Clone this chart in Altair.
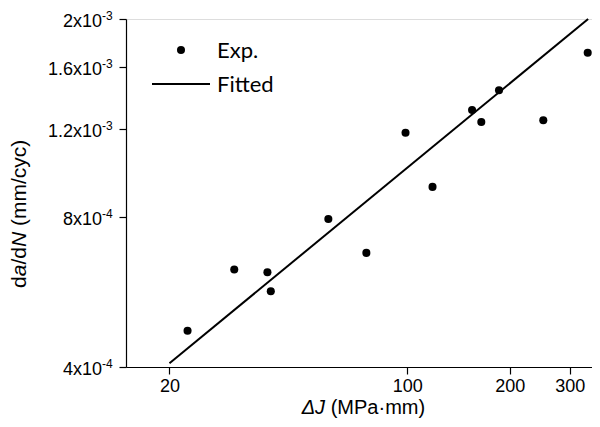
import altair as alt
import pandas as pd

dj = [22.6, 31.0, 38.8, 39.7, 58.6, 75.8, 98.8, 118.6, 155, 165, 186, 251, 339]
dadn = [4.73e-4, 6.28e-4, 6.20e-4, 5.68e-4, 7.93e-4, 6.78e-4, 1.182e-3, 9.20e-4,
        1.313e-3, 1.242e-3, 1.438e-3, 1.252e-3, 1.711e-3]

# Fitted line end points
fit_x = [20, 340]
fit_y = [4.07e-4, 2.0e-3]

# Axis ticks
x_ticks = [20, 100, 200, 300]
y_ticks = [4e-4, 8e-4, 1.2e-3, 1.6e-3, 2e-3]
y_main = ["4x10", "8x10", "1.2x10", "1.6x10", "2x10"]
y_sup = ["-4", "-4", "-3", "-3", "-3"]

exp_df = pd.DataFrame({"x": dj, "y": dadn})
fit_df = pd.DataFrame({"x": fit_x, "y": fit_y})
yt_df = pd.DataFrame({"y": y_ticks, "main": y_main, "sup": y_sup})
one = pd.DataFrame({"a": [0]})

W, H = 466, 348
xs = alt.Scale(type="log", domain=[14.9, 349], nice=False)
ys = alt.Scale(type="log", domain=[4e-4, 2e-3], nice=False)

AX = "Liberation Sans"

xaxis = alt.Axis(values=x_ticks, format="d", title=None, grid=False,
                 labelFont=AX, labelFontSize=18, labelColor="black",
                 tickSize=7, tickColor="black", domainColor="black",
                 tickWidth=1.2, domainWidth=1.2, labelPadding=3, labelFlush=False)
yaxis = alt.Axis(values=y_ticks, title=None, grid=False, labels=False,
                 tickSize=7, tickColor="black", domainColor="black",
                 tickWidth=1.2, domainWidth=1.2)

points = alt.Chart(exp_df).mark_circle(size=65, color="black", opacity=1).encode(
    x=alt.X("x:Q", scale=xs, axis=xaxis),
    y=alt.Y("y:Q", scale=ys, axis=yaxis),
)
line = alt.Chart(fit_df).mark_line(color="black", strokeWidth=2).encode(
    x=alt.X("x:Q", scale=xs),
    y=alt.Y("y:Q", scale=ys),
)

ylab_main = alt.Chart(yt_df).mark_text(
    align="right", baseline="alphabetic", x=-24, dy=7.5,
    font=AX, fontSize=18, color="black"
).encode(y=alt.Y("y:Q", scale=ys), text="main:N")
ylab_sup = alt.Chart(yt_df).mark_text(
    align="left", baseline="alphabetic", x=-24, dy=1,
    font=AX, fontSize=12, color="black"
).encode(y=alt.Y("y:Q", scale=ys), text="sup:N")

# Legend
LF = "Lato"
leg_pt = alt.Chart(one).mark_circle(size=65, color="black", opacity=1).encode(
    x=alt.value(55), y=alt.value(31))
leg_pt_t = alt.Chart(one).mark_text(align="left", baseline="alphabetic", font=LF,
                                    fontSize=22, color="black").encode(
    x=alt.value(91), y=alt.value(38.5), text=alt.value("Exp."))
leg_ln = alt.Chart(one).mark_rule(color="black", strokeWidth=2).encode(
    x=alt.value(26), x2=alt.value(84), y=alt.value(65))
leg_ln_t = alt.Chart(one).mark_text(align="left", baseline="alphabetic", font=LF,
                                    fontSize=22, color="black").encode(
    x=alt.value(91), y=alt.value(73), text=alt.value("Fitted"))

# X title: "ΔJ (MPa·mm)"
XT_Y = 395
xt1 = alt.Chart(one).mark_text(align="left", baseline="alphabetic", font=AX,
                               fontSize=20, fontStyle="italic", color="black").encode(
    x=alt.value(175.7), y=alt.value(XT_Y), text=alt.value("ΔJ"))
xt2 = alt.Chart(one).mark_text(align="left", baseline="alphabetic", font=AX,
                               fontSize=20, color="black").encode(
    x=alt.value(204.7), y=alt.value(XT_Y), text=alt.value("(MPa·mm)"))

# Y title: "da/dN (mm/cyc)" rotated
def ypiece(txt, ypos, italic=False):
    kw = dict(align="left", baseline="alphabetic", font=AX, fontSize=21,
              angle=270, color="black")
    if italic:
        kw["fontStyle"] = "italic"
    return alt.Chart(one).mark_text(**kw).encode(
        x=alt.value(-100), y=alt.value(ypos), text=alt.value(txt))

yt = [
    ypiece("d", 269),
    ypiece("a", 257.3, True),
    ypiece("/d", 245.6),
    ypiece("N", 228.1, True),
    ypiece("(mm/cyc)", 207.1),
]

chart = alt.layer(
    points, line, ylab_main, ylab_sup, leg_pt, leg_pt_t, leg_ln, leg_ln_t, xt1, xt2, *yt
).properties(
    width=W, height=H,
    autosize=alt.AutoSizeParams(type="none"),
    padding={"left": 118, "top": 11, "right": 0, "bottom": 52},
).configure_view(stroke=None).configure(background="white")

chart.save("out.html", embed_options={"renderer": "svg", "actions": False})
